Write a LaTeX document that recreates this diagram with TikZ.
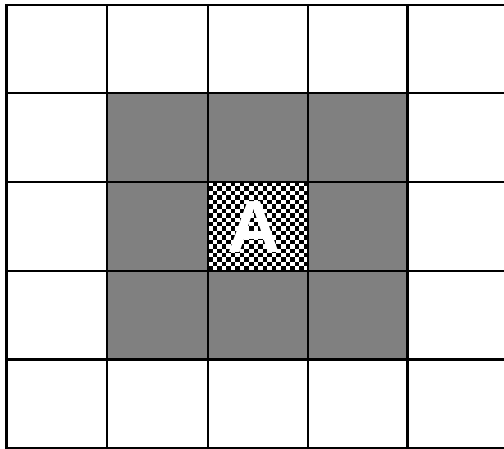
\documentclass[tikz,border=0pt]{standalone}
\usepackage{fontspec}
\setsansfont{Liberation Sans}
\usepackage{xcolor}
\definecolor{CellGray}{RGB}{128,128,128}
\usetikzlibrary{positioning}
\tikzset{
  % grid lines
  gridline/.style={draw=black, line width=2.1pt, line cap=rect},
  % checker squares of the centre cell
  checker/.style={fill=black},
  % centre letter
  letter/.style={text=white, inner sep=0pt,
    font=\sffamily\bfseries\fontsize{74}{74}\selectfont},
}

\begin{document}
\begin{tikzpicture}[x=1pt, y=-1pt]
  \useasboundingbox (0,0) rectangle (504,449);
  \clip (0,0) rectangle (504,449);

  %% gray ring round the centre
  \fill[CellGray] (107.3,93.4) rectangle (407.5,359.5);

  %% centre cell
  \fill[white] (208,182) rectangle (308,270.8);
  \begin{scope}
    \clip (208,182) rectangle (308,270.8);
    \foreach \i in {0,...,21}
      \foreach \j in {0,...,19}{
        \pgfmathtruncatemacro\k{mod(\i+\j,2)}
        \ifnum\k=1
          \fill[checker] (208+\i*4.56,182+\j*4.44) rectangle ++(4.56,4.44);
        \fi
      }
  \end{scope}
  \node[letter] (A) at (254,227) {A};

  %% grid
  \foreach \x in {6.5,107.3,208,308,407.5}
    \draw[gridline] (\x,4.7) -- (\x,448);
  \foreach \y in {4.7,93.4,182,270.8,359.5,448}
    \draw[gridline] (6.5,\y) -- (512,\y);

\end{tikzpicture}
\end{document}
